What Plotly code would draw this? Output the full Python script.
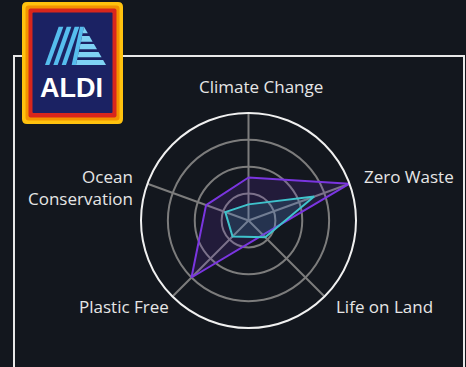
import plotly.graph_objects as go

W, H = 466, 367

# ---- data ----
categories = ["Climate Change", "Zero Waste", "Life on Land", "Plastic Free", "Ocean<br>Conservation"]
category_angles = [90, 20, 315, 225, 160]
series_purple = [40, 100, 19, 75, 42]
series_teal = [15, 65, 22, 21, 23]
radial_ticks = [25, 50, 75]

BG = "#13171e"
PURPLE = "#7a35e0"
TEAL = "#3fc3cc"
LABEL = "#e6e6e6"


def px(x):
    return x / W


def py(y):
    return 1 - y / H


def path(points):
    return "M " + " L ".join(f"{px(x)},{py(y)}" for x, y in points) + " Z"


def rrect(x0, y0, x1, y1, r):
    return (f"M {px(x0+r)},{py(y0)} L {px(x1-r)},{py(y0)} "
            f"Q {px(x1)},{py(y0)} {px(x1)},{py(y0+r)} L {px(x1)},{py(y1-r)} "
            f"Q {px(x1)},{py(y1)} {px(x1-r)},{py(y1)} L {px(x0+r)},{py(y1)} "
            f"Q {px(x0)},{py(y1)} {px(x0)},{py(y1-r)} L {px(x0)},{py(y0+r)} "
            f"Q {px(x0)},{py(y0)} {px(x0+r)},{py(y0)} Z")


fig = go.Figure()

theta_closed = category_angles + category_angles[:1]
fig.add_trace(go.Scatterpolar(
    r=series_purple + series_purple[:1], theta=theta_closed, mode="lines",
    line=dict(color=PURPLE, width=2), fill="toself",
    fillcolor="rgba(122,53,224,0.15)", hoverinfo="skip", showlegend=False))
fig.add_trace(go.Scatterpolar(
    r=series_teal + series_teal[:1], theta=theta_closed, mode="lines",
    line=dict(color=TEAL, width=2), fill="toself",
    fillcolor="rgba(63,195,204,0.15)", hoverinfo="skip", showlegend=False))

cx, cy, R = 248.5, 220.5, 107.5

shapes = []
# outer frame
shapes.append(dict(type="path", xref="paper", yref="paper",
                   path=f"M {px(14)},{py(380)} L {px(14)},{py(56)} L {px(464)},{py(56)} L {px(464)},{py(380)}",
                   line=dict(color="#e8e8e8", width=2), layer="above"))
# ALDI logo
shapes.append(dict(type="path", xref="paper", yref="paper", path=rrect(22, 2, 123, 124, 5),
                   fillcolor="#FFC20E", line=dict(width=0), layer="above"))
shapes.append(dict(type="path", xref="paper", yref="paper", path=rrect(25.5, 5.5, 119.5, 120.5, 3),
                   fillcolor="#F39200", line=dict(width=0), layer="above"))
shapes.append(dict(type="path", xref="paper", yref="paper", path=rrect(28.5, 8.5, 116.5, 117.5, 2),
                   fillcolor="#D9261C", line=dict(width=0), layer="above"))
shapes.append(dict(type="path", xref="paper", yref="paper", path=rrect(32.5, 12.5, 112.5, 113, 1),
                   fillcolor="#1b2263", line=dict(width=0), layer="above"))


def z(xz, yz):
    return (30 + xz / 3, 15 + yz / 3)


stripes = [((86, 100), (45, 58)), ((110, 124), (70, 83)), ((134, 148), (95, 108)), ((150, 162), (125, 138))]
for (t0, t1), (b0, b1) in stripes:
    shapes.append(dict(type="path", xref="paper", yref="paper",
                       path=path([z(t0, 35), z(t1, 35), z(b1, 150), z(b0, 150)]),
                       fillcolor="#56bdee", line=dict(width=0), layer="above"))


def lx(yz):
    return 162 - 24 * (yz - 35) / 115


def rx(yz):
    return 162 + 66 * (yz - 35) / 115


for (ya, yb) in [(35, 55), (63, 80), (87, 103), (111, 127), (135, 150)]:
    shapes.append(dict(type="path", xref="paper", yref="paper",
                       path=path([z(lx(ya), ya), z(rx(ya), ya), z(rx(yb), yb), z(lx(yb), yb)]),
                       fillcolor="#7fd2f4", line=dict(width=0), layer="above"))

annotations = [dict(text="<b>ALDI</b>", x=px(71.5), y=py(87.5), xref="paper", yref="paper",
                    showarrow=False, xanchor="center", yanchor="middle",
                    font=dict(family="Liberation Sans", size=27, color="white"))]

# category labels (text placement around the polar frame)
label_pos = [(261, 86, "center"), (362, 176, "left"), (334, 306, "left"),
             (171, 306, "right"), (135, 187.5, "right")]
for text, (lxp, lyp, anchor) in zip(categories, label_pos):
    annotations.append(dict(text=text, x=px(lxp), y=py(lyp), xref="paper", yref="paper",
                            showarrow=False, xanchor=anchor, yanchor="middle", align="right",
                            font=dict(family="Open Sans", size=17, color=LABEL)))

fig.update_layout(
    width=W, height=H, margin=dict(l=0, r=0, t=0, b=0),
    paper_bgcolor=BG, plot_bgcolor=BG,
    font=dict(family="Open Sans", color=LABEL, size=17),
    polar=dict(
        domain=dict(x=[px(cx - R), px(cx + R)], y=[py(cy + R), py(cy - R)]),
        bgcolor="rgba(0,0,0,0)",
        radialaxis=dict(range=[0, 100], tickvals=radial_ticks, showticklabels=False,
                        showline=False, ticks="", gridcolor="#7c7c7c", gridwidth=1.5),
        angularaxis=dict(tickmode="array", tickvals=category_angles, ticktext=categories,
                         direction="counterclockwise", rotation=0, showticklabels=False,
                         showline=True, linecolor="#f0f0f0", linewidth=2,
                         gridcolor="#7c7c7c", gridwidth=1.5, ticks=""),
    ),
    shapes=shapes, annotations=annotations,
)

fig.write_html("out.html")
